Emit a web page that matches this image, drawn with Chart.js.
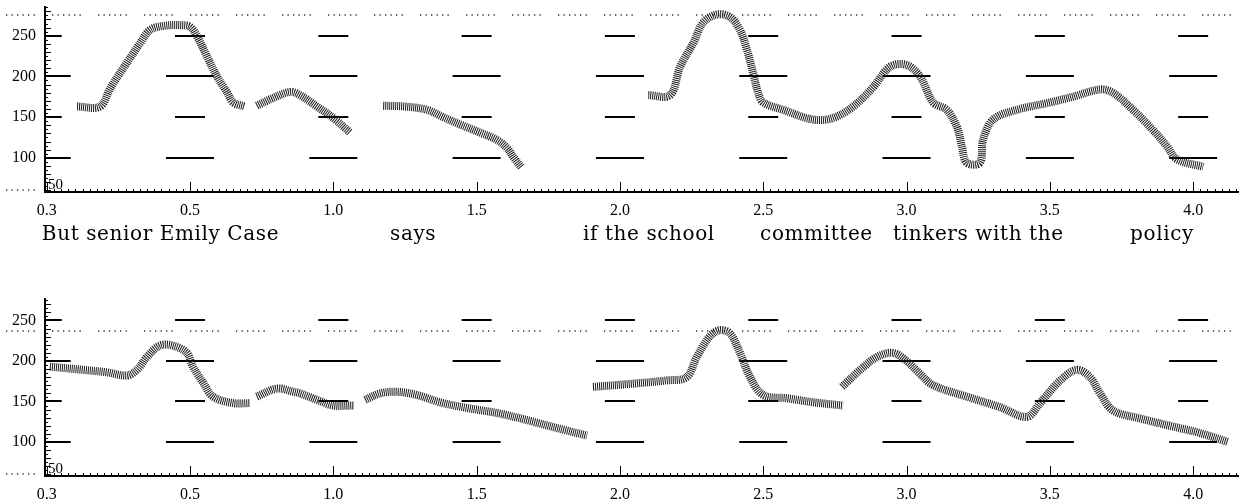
<!DOCTYPE html>
<html>
<head>
<meta charset="utf-8">
<script src="https://cdn.jsdelivr.net/npm/chart.js@4.4.1/dist/chart.umd.min.js"></script>
<style>
  html, body { margin: 0; padding: 0; background: #fff; }
  #wrap { position: relative; width: 1239px; height: 504px; }
  #topChart, #bottomChart { position: absolute; left: 0; }
  #topChart { top: 0; }
  #bottomChart { top: 260px; }
</style>
</head>
<body>
<div id="wrap">
  <canvas id="topChart" width="1239" height="260"></canvas>
  <canvas id="bottomChart" width="1239" height="244"></canvas>
</div>
<script>
// axis ticks
const xTickValues = [0, 0.5, 1, 1.5, 2, 2.5, 3, 3.5, 4];
const xTickLabels = ['0.3', '0.5', '1.0', '1.5', '2.0', '2.5', '3.0', '3.5', '4.0'];
const yTickValues = [100, 150, 200, 250];
const markLevels = [250, 200, 150, 100];
const longMarkLevels = [200, 100];
const cornerLabel = '50';

// words under the top panel (start time of each chunk, seconds)
const words = ['But senior Emily Case', 'says', 'if the school', 'committee', 'tinkers with the', 'policy'];
const wordTimes = [-0.017, 1.198, 1.871, 2.489, 2.953, 3.78];

// dotted reference lines (Hz)
const topRefLine = 275;
const bottomRefLine = 237.5;
const floorLine = 60;

// top panel pitch contour, time (s) / f0 (Hz)
const top1T = [0.106, 0.186, 0.221, 0.28, 0.326, 0.36, 0.406, 0.465, 0.5, 0.525, 0.56, 0.594, 0.63, 0.651, 0.692];
const top1F = [163, 163, 185, 217, 241, 257, 262, 263, 261, 249, 224, 200, 180, 168, 163];
const top2T = [0.733, 0.78, 0.849, 0.884, 0.943, 1.0, 1.058];
const top2F = [164, 172, 181, 177, 163, 149, 131];
const top3T = [1.174, 1.25, 1.327, 1.383, 1.442, 1.512, 1.571, 1.606, 1.63, 1.657];
const top3F = [164, 163, 159, 150, 141, 131, 122, 112, 100, 88];
const top4T = [2.099, 2.175, 2.21, 2.256, 2.29, 2.338, 2.384, 2.419, 2.443, 2.465, 2.482, 2.5, 2.569, 2.674, 2.744, 2.814, 2.884, 2.943, 3.001, 3.047, 3.093, 3.14, 3.176, 3.193, 3.21, 3.256, 3.267, 3.302, 3.385, 3.5, 3.58, 3.675, 3.72, 3.79, 3.86, 3.909, 3.944, 4.035];
const top4F = [177, 177, 212, 241, 266, 276, 273, 257, 233, 204, 180, 168, 159, 147, 149, 163, 187, 212, 214, 200, 168, 159, 138, 114, 94, 94, 122, 147, 159, 168, 175, 184, 180, 159, 134, 114, 98, 89];

// bottom panel pitch contour
const bot1T = [0.011, 0.127, 0.21, 0.28, 0.315, 0.35, 0.395, 0.44, 0.489, 0.51, 0.546, 0.58, 0.65, 0.71];
const bot1F = [193, 189, 186, 182, 189, 205, 219, 219, 210, 193, 173, 156, 148, 148];
const bot2T = [0.733, 0.803, 0.86, 0.884, 0.943, 1.0, 1.07];
const bot2F = [156, 166, 162, 160, 152, 145, 145];
const bot3T = [1.111, 1.163, 1.222, 1.292, 1.372, 1.466, 1.582, 1.697, 1.815, 1.885];
const bot3F = [152, 160, 162, 158, 149, 142, 135, 125, 114, 108];
const bot4T = [1.906, 2.046, 2.163, 2.233, 2.268, 2.313, 2.348, 2.384, 2.419, 2.454, 2.5, 2.583, 2.674, 2.779];
const bot4F = [168, 172, 176, 180, 205, 230, 238, 234, 210, 180, 158, 154, 149, 145];
const bot5T = [2.775, 2.838, 2.897, 2.953, 3.0, 3.05, 3.093, 3.21, 3.326, 3.42, 3.466, 3.536, 3.594, 3.64, 3.675, 3.72, 3.815, 3.93, 4.024, 4.122];
const bot5F = [168, 189, 205, 210, 200, 183, 170, 156, 143, 131, 148, 176, 189, 180, 160, 139, 129, 119, 111, 100];

const tickFont = { family: '"Liberation Serif", serif', size: 16 };

function contour(t, f) {
  return {
    data: t.map((x, i) => ({ x: x, y: f[i] })),
    borderColor: '#1a1a1a',
    borderWidth: 8,
    borderDash: [1, 1],
    pointRadius: 0,
    tension: 0.35,
    fill: false
  };
}

function crisp(v) { return Math.round(v) + 0.5; }

const marksPlugin = {
  id: 'marks',
  beforeDatasetsDraw(chart, args, opts) {
    const { ctx, chartArea: a, scales: { x, y } } = chart;
    ctx.save();
    // dotted reference lines
    ctx.strokeStyle = '#333';
    ctx.lineWidth = 1.5;
    ctx.setLineDash([1.3, 4.2, 1.3, 4.2, 1.3, 4.2, 1.3, 4.2, 1.3, 4.2, 1.3, 17.2]);
    ctx.beginPath();
    ctx.moveTo(6, Math.round(y.getPixelForValue(opts.refLine)));
    ctx.lineTo(chart.width, Math.round(y.getPixelForValue(opts.refLine)));
    ctx.moveTo(6, Math.round(y.getPixelForValue(floorLine)));
    ctx.lineTo(a.left, Math.round(y.getPixelForValue(floorLine)));
    ctx.stroke();
    ctx.setLineDash([]);
    // level marks repeated at each labelled time
    ctx.beginPath();
    ctx.rect(a.left, a.top, a.right - a.left, a.bottom - a.top);
    ctx.clip();
    ctx.strokeStyle = '#000';
    ctx.lineWidth = 2;
    ctx.beginPath();
    xTickValues.forEach(c => {
      const cx = x.getPixelForValue(c);
      markLevels.forEach(L => {
        const hw = longMarkLevels.includes(L) ? 24 : 15;
        const py = Math.round(y.getPixelForValue(L));
        ctx.moveTo(cx - hw, py);
        ctx.lineTo(cx + hw, py);
      });
    });
    ctx.stroke();
    ctx.restore();
  },
  afterDraw(chart, args, opts) {
    const { ctx, chartArea: a, scales: { x, y } } = chart;
    ctx.save();
    ctx.strokeStyle = '#000';
    ctx.lineWidth = 1;
    ctx.beginPath();
    // ruler ticks on the y axis
    for (let v = 60; v <= y.max; v += 5) {
      const py = crisp(y.getPixelForValue(v));
      ctx.moveTo(a.left, py);
      ctx.lineTo(a.left + (v % 10 === 0 ? 6 : 3), py);
    }
    // ruler ticks on the x axis
    for (let t = 0; t <= x.max; t += 0.025) {
      const px = crisp(x.getPixelForValue(t));
      const major = Math.abs(t * 2 - Math.round(t * 2)) < 1e-6;
      ctx.moveTo(px, a.bottom);
      ctx.lineTo(px, a.bottom - (major ? 10 : 3));
    }
    ctx.stroke();
    ctx.fillStyle = '#000';
    ctx.font = '15px "Liberation Serif", serif';
    ctx.textAlign = 'left';
    ctx.textBaseline = 'alphabetic';
    ctx.fillText(cornerLabel, a.left + 3, a.bottom - 3);
    if (opts.words) {
      ctx.font = '20px "DejaVu Serif", serif';
      ctx.letterSpacing = '0.6px';
      words.forEach((w, i) => {
        ctx.fillText(w, x.getPixelForValue(wordTimes[i]), 240);
      });
    }
    ctx.restore();
  }
};

function makeChart(id, segs, yMax, refLine, padTop, padBottom, withWords) {
  return new Chart(document.getElementById(id), {
    type: 'line',
    data: { datasets: segs.map(s => contour(s[0], s[1])) },
    options: {
      responsive: false,
      animation: false,
      devicePixelRatio: 1,
      events: [],
      layout: { padding: { top: padTop, bottom: padBottom, left: 0, right: 0 } },
      plugins: {
        legend: { display: false },
        tooltip: { enabled: false },
        marks: { refLine: refLine, words: withWords }
      },
      scales: {
        x: {
          type: 'linear',
          min: -0.006,
          max: 4.16,
          afterBuildTicks: s => { s.ticks = xTickValues.map(v => ({ value: v })); },
          afterFit: s => { s.height = 28; },
          ticks: {
            callback: (v, i) => xTickLabels[i],
            font: tickFont, color: '#000', padding: 9, maxRotation: 0, autoSkip: false
          },
          grid: { display: false, drawTicks: false },
          border: { display: true, color: '#000', width: 2 }
        },
        y: {
          min: 58,
          max: yMax,
          afterBuildTicks: s => { s.ticks = yTickValues.map(v => ({ value: v })); },
          afterFit: s => { s.width = 45; s.paddingTop = 0; s.paddingBottom = 0; },
          ticks: { font: tickFont, color: '#000', padding: 9 },
          grid: { display: false, drawTicks: false },
          border: { display: true, color: '#000', width: 2 }
        }
      }
    },
    plugins: [marksPlugin]
  });
}

makeChart('topChart', [[top1T, top1F], [top2T, top2F], [top3T, top3F], [top4T, top4F]], 285.3, topRefLine, 7, 40, true);
makeChart('bottomChart', [[bot1T, bot1F], [bot2T, bot2F], [bot3T, bot3F], [bot4T, bot4F], [bot5T, bot5F]], 276.5, bottomRefLine, 39, 0, false);
</script>
</body>
</html>
